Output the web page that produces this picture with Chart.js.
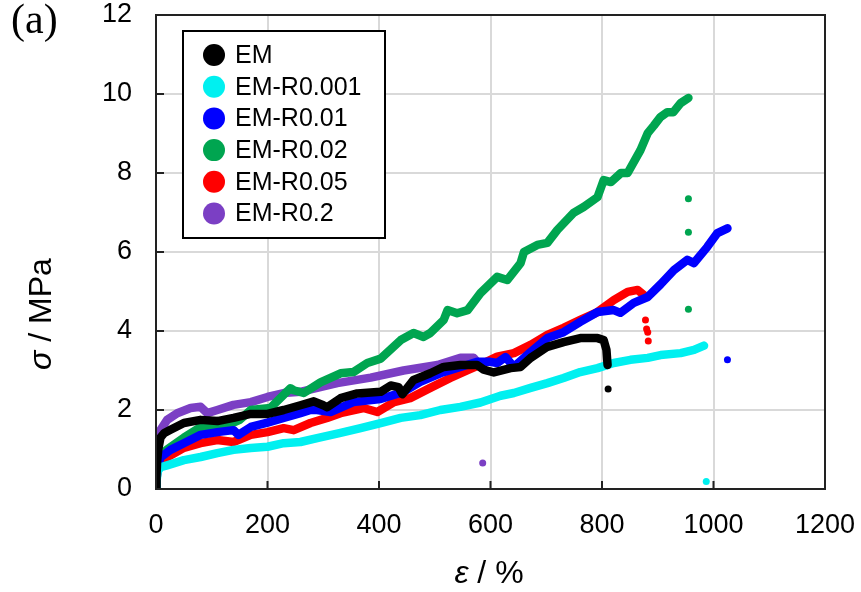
<!DOCTYPE html>
<html><head><meta charset="utf-8">
<script src="https://cdn.jsdelivr.net/npm/chart.js@4/dist/chart.umd.min.js"></script>
<style>html,body{margin:0;padding:0;background:#fff}#wrap{width:861px;height:592px;position:relative}</style>
</head><body><div id="wrap"><canvas id="c" width="861" height="592"></canvas></div>
<script>
// Series names and colours
const seriesNames = ["EM", "EM-R0.001", "EM-R0.01", "EM-R0.02", "EM-R0.05", "EM-R0.2"];
const seriesColors = ["#000000", "#00f0f0", "#0000ff", "#00a550", "#ff0000", "#7b3fc4"];

// Axis ticks
const xTicks = [0, 200, 400, 600, 800, 1000, 1200];
const yTicks = [0, 2, 4, 6, 8, 10, 12];

// EM (black)
const emX = [0, 1, 2, 4, 8, 15, 26, 50, 80, 110, 139, 170, 200, 229, 259, 283, 300, 307, 331, 361, 403, 421, 435, 442, 462, 492, 516, 546, 576, 588, 606, 636, 654, 672, 702, 731, 761, 792, 803, 808, 810];
const emY = [0, 0.35, 0.7, 1.0, 1.3, 1.42, 1.5, 1.67, 1.75, 1.72, 1.8, 1.9, 1.9, 2.0, 2.12, 2.22, 2.12, 2.07, 2.3, 2.42, 2.46, 2.62, 2.58, 2.4, 2.76, 2.93, 3.09, 3.14, 3.14, 3.02, 2.95, 3.06, 3.09, 3.32, 3.6, 3.72, 3.82, 3.82, 3.77, 3.52, 3.14];

// EM-R0.001 (cyan)
const r0001X = [0, 1, 3, 8, 20, 50, 80, 110, 139, 170, 200, 229, 259, 289, 331, 367, 403, 439, 474, 510, 546, 582, 618, 642, 672, 702, 731, 761, 792, 821, 851, 882, 905, 941, 965, 983];
const r0001Y = [0, 0.2, 0.45, 0.55, 0.6, 0.73, 0.81, 0.91, 0.99, 1.04, 1.07, 1.16, 1.19, 1.29, 1.42, 1.54, 1.67, 1.8, 1.87, 2.0, 2.08, 2.19, 2.36, 2.43, 2.56, 2.68, 2.81, 2.96, 3.06, 3.19, 3.27, 3.32, 3.39, 3.44, 3.52, 3.63];

// EM-R0.01 (blue)
const r001X = [0, 1, 3, 8, 26, 50, 80, 110, 139, 148, 170, 200, 229, 259, 277, 289, 313, 354, 403, 444, 474, 510, 546, 576, 600, 612, 627, 642, 672, 702, 731, 761, 792, 821, 833, 857, 882, 905, 929, 953, 965, 989, 1007, 1025];
const r001Y = [0, 0.25, 0.55, 0.8, 0.99, 1.16, 1.37, 1.44, 1.49, 1.37, 1.57, 1.68, 1.8, 1.92, 2.0, 2.0, 1.95, 2.2, 2.28, 2.46, 2.71, 2.93, 3.09, 3.22, 3.22, 3.19, 3.34, 3.09, 3.47, 3.82, 3.97, 4.23, 4.48, 4.53, 4.46, 4.71, 4.86, 5.18, 5.54, 5.8, 5.72, 6.13, 6.48, 6.6];

// EM-R0.02 (green)
const r002X = [0, 1, 3, 8, 20, 50, 80, 110, 134, 150, 170, 205, 241, 247, 265, 295, 331, 354, 379, 403, 439, 462, 480, 492, 516, 523, 540, 559, 582, 612, 630, 654, 660, 684, 702, 720, 749, 767, 792, 803, 816, 834, 846, 869, 882, 893, 905, 917, 928, 941, 955];
const r002Y = [0, 0.3, 0.6, 0.85, 1.0, 1.3, 1.57, 1.6, 1.65, 1.75, 2.0, 2.05, 2.55, 2.5, 2.43, 2.7, 2.93, 2.96, 3.19, 3.3, 3.77, 3.95, 3.85, 3.95, 4.28, 4.53, 4.45, 4.53, 4.96, 5.37, 5.29, 5.72, 6.0, 6.18, 6.23, 6.56, 6.99, 7.14, 7.39, 7.82, 7.77, 8.0, 8.0, 8.58, 9.01, 9.2, 9.42, 9.54, 9.54, 9.77, 9.9];

// EM-R0.05 (red)
const r005X = [0, 1, 3, 8, 20, 50, 80, 110, 139, 170, 200, 229, 247, 277, 307, 331, 372, 397, 427, 456, 492, 528, 559, 588, 612, 642, 672, 702, 731, 761, 792, 821, 846, 864, 875];
const r005Y = [0, 0.25, 0.5, 0.7, 0.8, 1.04, 1.16, 1.24, 1.19, 1.37, 1.44, 1.54, 1.49, 1.67, 1.8, 1.92, 2.05, 1.95, 2.2, 2.3, 2.56, 2.81, 3.01, 3.19, 3.35, 3.44, 3.65, 3.9, 4.08, 4.28, 4.48, 4.78, 4.99, 5.04, 4.91];

// EM-R0.2 (purple)
const r02X = [0, 1, 3, 8, 20, 38, 62, 80, 92, 110, 139, 170, 200, 229, 259, 289, 325, 385, 444, 505, 546, 570, 580];
const r02Y = [0, 0.5, 1.0, 1.49, 1.75, 1.92, 2.05, 2.08, 1.92, 2.0, 2.13, 2.2, 2.33, 2.43, 2.46, 2.56, 2.68, 2.82, 3.0, 3.14, 3.32, 3.32, 3.15];

// Isolated points after fracture (series index, x, y)
const dotSeries = [0, 1, 2, 3, 3, 3, 4, 4, 4, 4, 5];
const dotX = [811, 987, 1025, 955, 955, 955, 878, 880, 882, 883, 586];
const dotY = [2.53, 0.19, 3.27, 7.35, 6.5, 4.55, 4.28, 4.05, 3.97, 3.75, 0.66];

const lineXs = [emX, r0001X, r001X, r002X, r005X, r02X];
const lineYs = [emY, r0001Y, r001Y, r002Y, r005Y, r02Y];

const pts = (xs, ys) => xs.map((x, i) => ({x: x, y: ys[i]}));

const datasets = seriesNames.map((name, i) => ({
  label: name,
  data: pts(lineXs[i], lineYs[i]),
  showLine: true,
  borderColor: seriesColors[i],
  backgroundColor: seriesColors[i],
  borderWidth: 8.5,
  borderJoinStyle: 'round',
  borderCapStyle: 'round',
  pointRadius: 0,
  tension: 0
}));
dotSeries.forEach((s, k) => {
  datasets.push({
    label: '_dot',
    data: [{x: dotX[k], y: dotY[k]}],
    showLine: false,
    pointRadius: 3.5,
    pointBorderWidth: 0,
    backgroundColor: seriesColors[s],
    borderColor: seriesColors[s]
  });
});

const FONT = '"Liberation Sans", Arial, sans-serif';

const decor = {
  id: 'decor',
  afterDraw(chart) {
    const ctx = chart.ctx;
    const a = chart.chartArea;
    const xs = chart.scales.x, ys = chart.scales.y;
    ctx.save();
    // box
    ctx.strokeStyle = '#222';
    ctx.lineWidth = 2;
    ctx.strokeRect(a.left, a.top, a.right - a.left, a.bottom - a.top);
    // inner ticks
    ctx.beginPath();
    xTicks.forEach(v => { const p = xs.getPixelForValue(v); ctx.moveTo(p, a.bottom); ctx.lineTo(p, a.bottom - 8); });
    yTicks.forEach(v => { const p = ys.getPixelForValue(v); ctx.moveTo(a.left, p); ctx.lineTo(a.left + 8, p); });
    ctx.stroke();
    // legend
    const lx = 183, ly = 31, lw = 202, lh = 207;
    ctx.fillStyle = '#fff';
    ctx.fillRect(lx, ly, lw, lh);
    ctx.strokeStyle = '#000';
    ctx.lineWidth = 2;
    ctx.strokeRect(lx, ly, lw, lh);
    ctx.font = '25px ' + FONT;
    ctx.textBaseline = 'middle';
    ctx.textAlign = 'left';
    seriesNames.forEach((name, i) => {
      const cy = 55 + i * 31.7;
      ctx.beginPath();
      ctx.fillStyle = seriesColors[i];
      ctx.arc(214, cy, 11, 0, Math.PI * 2);
      ctx.fill();
      ctx.fillStyle = '#000';
      ctx.fillText(name, 235, cy + 1);
    });
    // axis titles
    ctx.fillStyle = '#000';
    const drawTitle = (sym, rest, cx, cy, rot) => {
      ctx.save();
      ctx.translate(cx, cy);
      if (rot) ctx.rotate(-Math.PI / 2);
      ctx.font = 'italic 32px ' + FONT;
      const w1 = ctx.measureText(sym).width;
      ctx.font = '32px ' + FONT;
      const w2 = ctx.measureText(rest).width;
      const start = -(w1 + w2) / 2;
      ctx.textAlign = 'left';
      ctx.textBaseline = 'middle';
      ctx.font = 'italic 32px ' + FONT;
      ctx.fillText(sym, start, 0);
      ctx.font = '32px ' + FONT;
      ctx.fillText(rest, start + w1, 0);
      ctx.restore();
    };
    drawTitle('\u03C3', ' / MPa', 42, 314, true);
    drawTitle('\u03B5', ' / %', 489, 574, false);
    // panel label
    ctx.font = '42px "Liberation Serif", "Times New Roman", serif';
    ctx.textAlign = 'left';
    ctx.textBaseline = 'alphabetic';
    ctx.fillText('(a)', 11, 33);
    ctx.restore();
  }
};

new Chart(document.getElementById('c'), {
  type: 'scatter',
  data: {datasets: datasets},
  options: {
    responsive: false,
    animation: false,
    layout: {autoPadding: false, padding: {left: 0, top: 15, right: 36, bottom: 0}},
    plugins: {legend: {display: false}, tooltip: {enabled: false}},
    scales: {
      x: {
        type: 'linear', min: 0, max: 1200,
        afterBuildTicks: s => { s.ticks = xTicks.map(v => ({value: v})); },
        afterFit: s => { s.height = 103; s.paddingLeft = 0; s.paddingRight = 0; },
        grid: {color: '#d9d9d9', lineWidth: 2, drawTicks: false},
        border: {display: true, color: '#222', width: 2},
        ticks: {color: '#000', font: {family: FONT, size: 27}, padding: 20, maxRotation: 0, callback: v => String(v)}
      },
      y: {
        type: 'linear', min: 0, max: 12,
        afterBuildTicks: s => { s.ticks = yTicks.map(v => ({value: v})); },
        afterFit: s => { s.width = 156; s.paddingTop = 0; s.paddingBottom = 0; },
        grid: {color: '#d9d9d9', lineWidth: 2, drawTicks: false},
        border: {display: true, color: '#222', width: 2},
        ticks: {color: '#000', font: {family: FONT, size: 27}, padding: 24, callback: v => String(v)}
      }
    }
  },
  plugins: [decor]
});
</script>
</body></html>
